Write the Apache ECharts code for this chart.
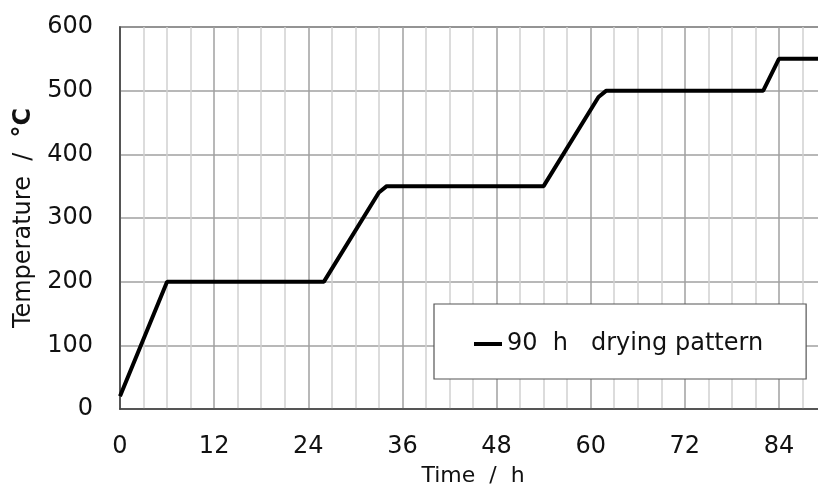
<!DOCTYPE html>
<html>
<head>
<meta charset="utf-8">
<script src="https://cdn.jsdelivr.net/npm/echarts@6/dist/echarts.min.js"></script>
<style>
html,body{margin:0;padding:0;background:#fff;}
#chart{width:818px;height:492px;}
</style>
</head>
<body>
<div id="chart"></div>
<script>
// Data
const timeHours = [0, 6, 26, 33, 34, 54, 61, 62, 82, 84, 90];
const temperatures = [20, 200, 200, 340, 350, 350, 490, 500, 500, 550, 550];
const seriesName = '90  h   drying pattern';
const xAxisTitle = 'Time  /  h';
const yAxisTitle = 'Temperature  /  {u|°C}';
const xLabelStep = 12;

const font = 'DejaVu Sans';
const chart = echarts.init(document.getElementById('chart'));
chart.setOption({
  animation: false,
  backgroundColor: '#fff',
  grid: {
    left: 120, top: 27, width: 706, height: 382,
    outerBoundsMode: 'none', containLabel: false,
    show: true, borderColor: '#404040', borderWidth: 1.5, backgroundColor: 'transparent'
  },
  legend: {
    left: 434, top: 304,
    padding: [28, 43, 23, 40],
    backgroundColor: '#fff',
    borderColor: '#555', borderWidth: 1.2,
    icon: 'rect',
    itemWidth: 28, itemHeight: 4,
    textStyle: { fontFamily: font, fontSize: 24, color: '#111' },
    data: [{ name: seriesName, itemStyle: { color: '#000' } }]
  },
  xAxis: {
    type: 'value', min: 0, max: 90, interval: 3,
    name: xAxisTitle, nameLocation: 'middle', nameGap: 56,
    nameTextStyle: { fontFamily: font, fontSize: 22, color: '#111' },
    axisLine: { show: true, lineStyle: { color: '#404040', width: 1.5 } },
    axisTick: { show: false },
    axisLabel: {
      margin: 26, fontFamily: font, fontSize: 24, color: '#111',
      formatter: v => (v % xLabelStep === 0 ? String(v) : '')
    },
    splitLine: { show: true, lineStyle: { color: ['#a0a0a0', '#d0d0d0', '#d0d0d0', '#d0d0d0'], width: 1.5 } }
  },
  yAxis: {
    type: 'value', min: 0, max: 600, interval: 100,
    name: yAxisTitle, nameLocation: 'middle', nameGap: 84,
    nameTextStyle: {
      fontFamily: font, fontSize: 24, color: '#111',
      rich: { u: { fontFamily: font, fontSize: 24, fontWeight: 'bold', color: '#111' } }
    },
    axisLine: { show: true, lineStyle: { color: '#404040', width: 1.5 } },
    axisTick: { show: false },
    axisLabel: { margin: 27, fontFamily: font, fontSize: 24, color: '#111' },
    splitLine: { show: true, lineStyle: { color: '#a0a0a0', width: 1.5 } }
  },
  series: [{
    name: seriesName,
    type: 'line',
    data: timeHours.map((t, i) => [t, temperatures[i]]),
    symbol: 'none',
    lineStyle: { color: '#000', width: 4 },
    itemStyle: { color: '#000' }
  }]
});
</script>
</body>
</html>
